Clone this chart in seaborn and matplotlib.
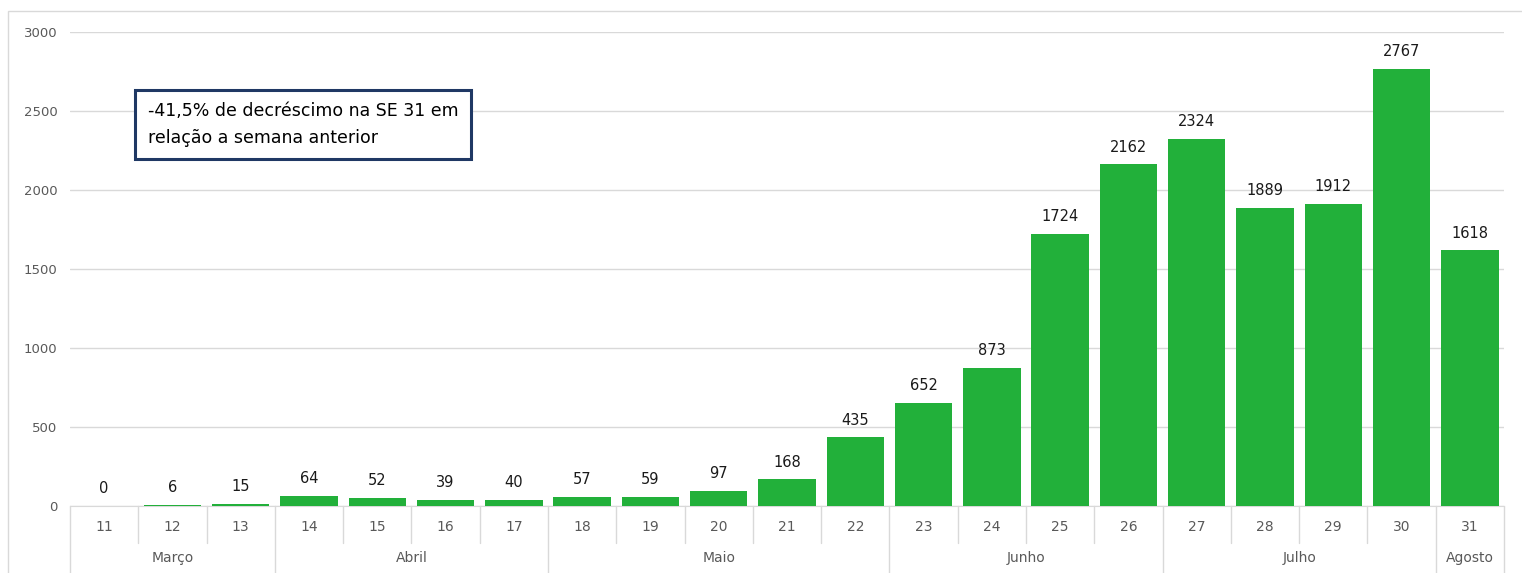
import matplotlib
matplotlib.use("Agg")
import matplotlib.pyplot as plt
import matplotlib.transforms as mtransforms
import seaborn as sns
import pandas as pd

# Dados: casos por semana epidemiológica
semanas = ["11", "12", "13", "14", "15", "16", "17", "18", "19", "20", "21",
           "22", "23", "24", "25", "26", "27", "28", "29", "30", "31"]
casos = [0, 6, 15, 64, 52, 39, 40, 57, 59, 97, 168,
         435, 652, 873, 1724, 2162, 2324, 1889, 1912, 2767, 1618]
meses = ["Março", "Abril", "Maio", "Junho", "Julho", "Agosto"]
semanas_por_mes = [3, 4, 5, 4, 4, 1]
yticks = [0, 500, 1000, 1500, 2000, 2500, 3000]
nota = "-41,5% de decréscimo na SE 31 em\nrelação a semana anterior"

VERDE = "#22B03A"
CINZA_TXT = "#595959"
CINZA_LINHA = "#D9D9D9"

sns.set_style("white")
plt.rcParams["font.family"] = ["DejaVu Sans"]

df = pd.DataFrame({"semana": semanas, "casos": casos})

fig = plt.figure(figsize=(15.22, 5.73), dpi=100)
ax = fig.add_axes([70 / 1522, 67 / 573, 1434 / 1522, 474 / 573])

sns.barplot(data=df, x="semana", y="casos", color=VERDE, width=0.84,
            saturation=1, linewidth=0, ax=ax, zorder=3)

ax.set_ylim(0, 3000)
ax.set_xlim(-0.5, len(semanas) - 0.5)
ax.set_yticks(yticks)
ax.yaxis.grid(True, color=CINZA_LINHA, linewidth=1, zorder=0)
ax.set_axisbelow(True)
ax.set_xlabel("")
ax.set_ylabel("")
for lado in ["top", "right", "left"]:
    ax.spines[lado].set_visible(False)
ax.spines["bottom"].set_color(CINZA_LINHA)
ax.spines["bottom"].set_zorder(1)
ax.tick_params(axis="y", length=0, pad=9, labelsize=9.5, labelcolor=CINZA_TXT)
ax.tick_params(axis="x", length=0, pad=10, labelsize=10, labelcolor=CINZA_TXT)

# Rótulos dos valores
for i, v in enumerate(casos):
    ax.annotate(f"{v}", (i, v), xytext=(0, 7), textcoords="offset points",
                ha="center", va="bottom", fontsize=10.5, color="#1a1a1a")

# Eixo de categorias em dois níveis (semana / mês)
trans = mtransforms.blended_transform_factory(ax.transData, ax.transAxes)
limites_mes = [0]
for n in semanas_por_mes:
    limites_mes.append(limites_mes[-1] + n)
for k in range(len(semanas) + 1):
    x = k - 0.5
    fundo = -0.141 if k in limites_mes else -0.078
    ax.plot([x, x], [0, fundo], transform=trans, color=CINZA_LINHA,
            linewidth=1, clip_on=False)
for m, ini, fim in zip(meses, limites_mes[:-1], limites_mes[1:]):
    ax.text((ini + fim - 1) / 2, -0.11, m, transform=trans, ha="center",
            va="center", fontsize=10, color=CINZA_TXT)

# Caixa de anotação
ax.text(0.64, 2415, nota, fontsize=12.5, color="black", va="center", ha="left",
        linespacing=1.6,
        bbox=dict(boxstyle="square,pad=0.72", facecolor="white",
                  edgecolor="#1F3864", linewidth=2.2), zorder=5)

# Moldura externa
fig.patches.append(plt.Rectangle((8 / 1522, -0.01), 1.02, 1 - 11 / 573 + 0.01,
                                 transform=fig.transFigure, fill=False,
                                 edgecolor=CINZA_LINHA, linewidth=1))

fig.savefig("out.png", dpi=100)
